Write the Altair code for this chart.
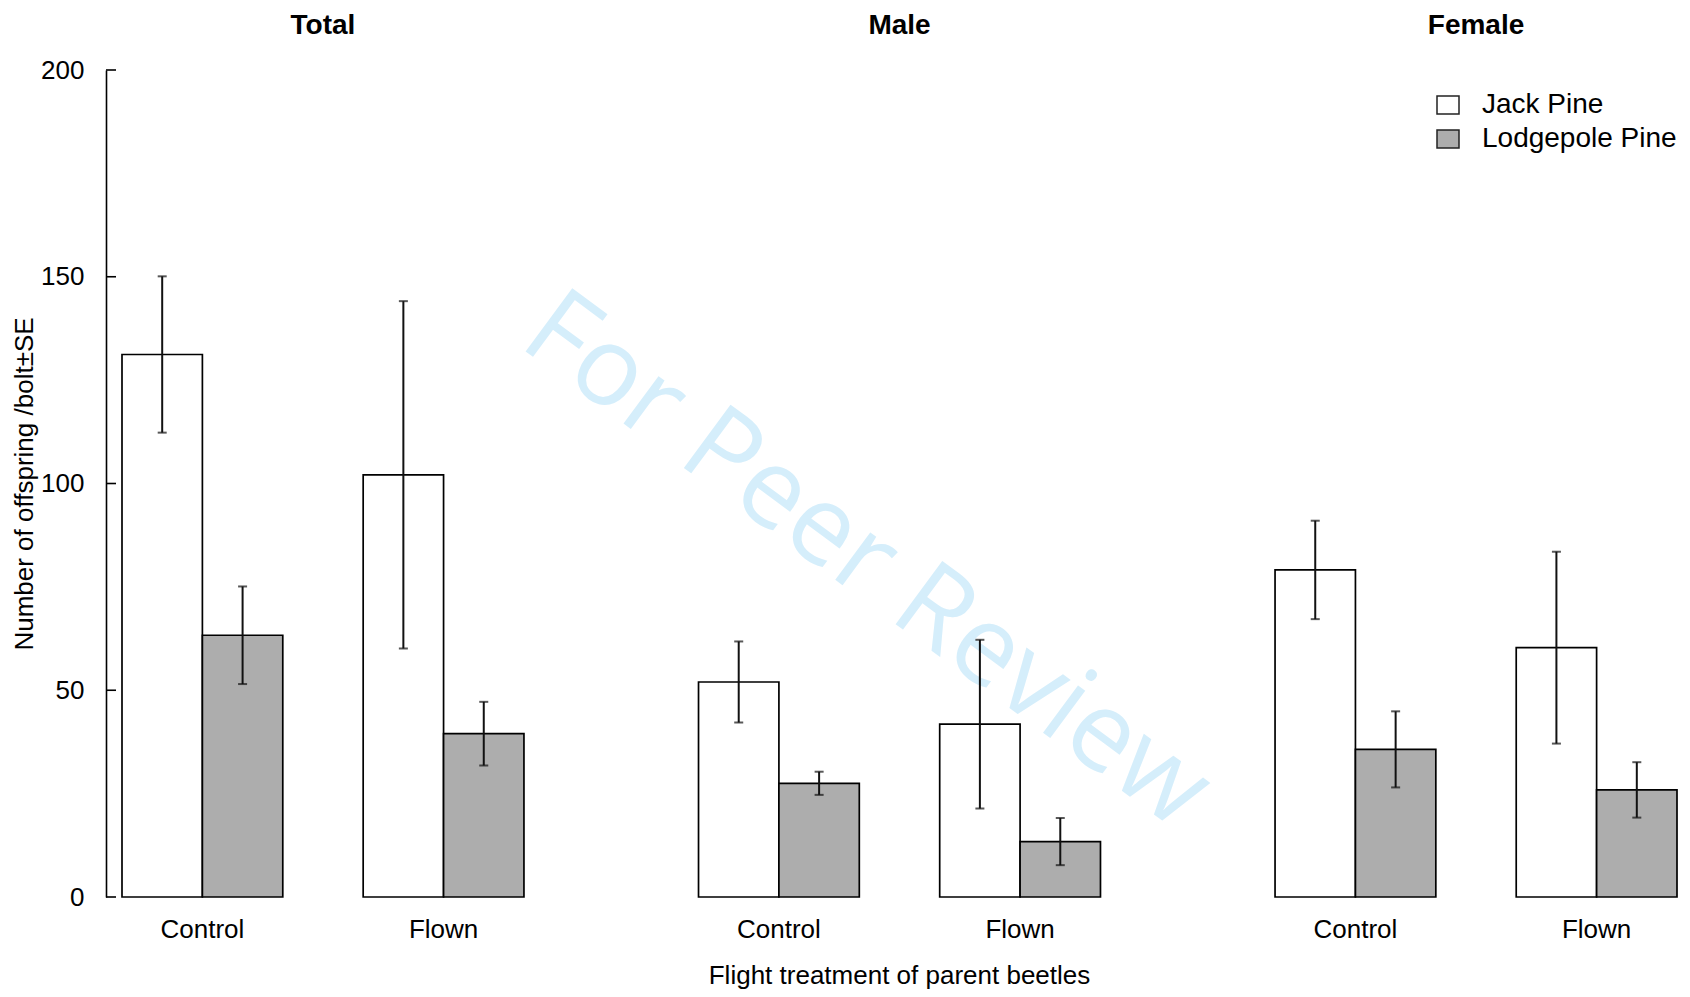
import altair as alt
import pandas as pd

# ---------------- data ----------------
groups = ["Total", "Male", "Female"]
treatments = ["Control", "Flown"]
species = ["Jack Pine", "Lodgepole Pine"]

# order inside each group: Control-Jack, Control-Lodgepole, Flown-Jack, Flown-Lodgepole
total_mean = [131.2, 63.3, 102.1, 39.5]
total_se = [18.9, 11.8, 42.0, 7.7]
male_mean = [52.0, 27.5, 41.8, 13.4]
male_se = [9.8, 2.8, 20.4, 5.7]
female_mean = [79.1, 35.7, 60.3, 25.9]
female_se = [11.9, 9.2, 23.2, 6.7]

y_ticks = [0, 50, 100, 150, 200]
watermark = "For Peer Review"
x_title = "Flight treatment of parent beetles"
y_title = "Number of offspring /bolt\u00b1SE"

means = {"Total": total_mean, "Male": male_mean, "Female": female_mean}
ses = {"Total": total_se, "Male": male_se, "Female": female_se}

rows = []
for g in groups:
    i = 0
    for t in treatments:
        for s in species:
            m = means[g][i]
            e = ses[g][i]
            rows.append(dict(group=g, treatment=t, species=s, slot=f"{t}|{s}",
                             mean=m, lo=m - e, hi=m + e))
            i += 1
df = pd.DataFrame(rows)

label_df = pd.DataFrame([dict(group=g, treatment=t, slot=f"{t}|{species[0]}")
                         for g in groups for t in treatments])
tick_df = pd.DataFrame({"tick": y_ticks})
wm_df = pd.DataFrame({"text": [watermark]})

slot_domain = [f"{treatments[0]}|{s}" for s in species] + ["gap"] + \
              [f"{treatments[1]}|{s}" for s in species]

FONT = "Liberation Sans"

# ---------------- scales / axes ----------------
x_scale = alt.Scale(domain=groups, paddingInner=0.3028, paddingOuter=0)
xo_scale = alt.Scale(domain=slot_domain, paddingInner=0, paddingOuter=0)
y_scale = alt.Scale(domain=[0, 200], nice=False, zero=True)

x_axis = alt.Axis(orient="top", labelFontSize=28, labelFontWeight="bold", labelFont=FONT,
                  labelColor="black", labelPadding=31, domain=False, ticks=False,
                  grid=False, labelAngle=0, title=None)
y_axis = alt.Axis(values=y_ticks, offset=16, domainColor="black", domainWidth=1.6,
                  ticks=False, labelPadding=22, labelFontSize=26, labelFont=FONT,
                  labelColor="black", grid=False, title=y_title, titleFontSize=26,
                  titleFont=FONT, titleFontWeight="normal", titleColor="black",
                  titlePadding=3)

X = alt.X("group:N", scale=x_scale, sort=groups, axis=x_axis)
XO = alt.XOffset("slot:N", scale=xo_scale)

def Y(field):
    return alt.Y(field, scale=y_scale, axis=y_axis)

# ---------------- layers ----------------
wm = alt.Chart(wm_df).mark_text(
    font="Open Sans", fontSize=110, color="#d5eefb", angle=36.4,
    align="left", baseline="alphabetic"
).encode(x=alt.value(395), y=alt.value(275), text="text:N")

bars = alt.Chart(df).mark_bar(stroke="black", strokeWidth=1.7).encode(
    x=X, xOffset=XO, y=Y("mean:Q"),
    fill=alt.Fill("species:N",
                  scale=alt.Scale(domain=species, range=["white", "#adadad"]),
                  legend=alt.Legend(orient="none", legendX=1312, legendY=21, title=None,
                                    symbolType="M-1,-0.82L1,-0.82L1,0.82L-1,0.82Z",
                                    symbolSize=484, symbolStrokeColor="#222222",
                                    symbolStrokeWidth=1.5, labelFontSize=28,
                                    labelFont=FONT, labelColor="black", labelLimit=0,
                                    labelOffset=20, rowPadding=6, padding=0))
)

err = alt.Chart(df).mark_rule(color="#111111", strokeWidth=2).encode(
    x=X, xOffset=XO, y=Y("lo:Q"), y2="hi:Q"
)
cap_lo = alt.Chart(df).mark_tick(color="#111111", size=9, thickness=2).encode(
    x=X, xOffset=XO, y=Y("lo:Q")
)
cap_hi = alt.Chart(df).mark_tick(color="#111111", size=9, thickness=2).encode(
    x=X, xOffset=XO, y=Y("hi:Q")
)

ticks = alt.Chart(tick_df).mark_rule(color="black", strokeWidth=1.6).encode(
    x=alt.value(-16), x2=alt.value(-6), y=Y("tick:Q")
)

labels = alt.Chart(label_df).mark_text(
    font=FONT, fontSize=26, color="black", align="center",
    baseline="alphabetic", dx=40.2, dy=41
).encode(x=X, xOffset=XO, y=alt.datum(0), text="treatment:N")

chart = alt.layer(wm, bars, err, cap_lo, cap_hi, ticks, labels).properties(
    width=1555, height=827,
    padding={"left": 3, "top": 3, "right": 3, "bottom": 0},
    title=alt.TitleParams(text=x_title, orient="bottom", anchor="middle", frame="group",
                          fontSize=26, fontWeight="normal", font=FONT, color="black",
                          baseline="top", offset=20)
).configure(background="white").configure_view(stroke=None, strokeWidth=0)

chart.save("out.html", embed_options={"renderer": "svg", "actions": False})
